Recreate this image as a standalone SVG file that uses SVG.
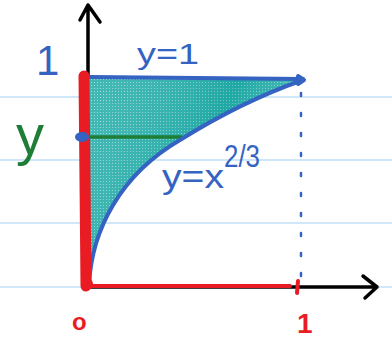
<svg xmlns="http://www.w3.org/2000/svg" width="392" height="340" viewBox="0 0 392 340">
<defs>
<style>
.rule{stroke:#cfe7f8;stroke-width:2}
.ax{stroke:#000;stroke-width:3.5;fill:none;stroke-linecap:round;stroke-linejoin:round}
.blue{stroke:#3563c2;fill:none;stroke-linecap:round;stroke-linejoin:round}
.red{stroke:#e91c24;fill:none;stroke-linecap:round;stroke-linejoin:round}
.lbl{font-family:"Liberation Sans",Arial,sans-serif}
.tb{fill:#3563c2}
.tr{fill:#e91c24;font-weight:bold}
.tg{fill:#1e7d36}
</style>
<pattern id="dots" width="3" height="3" patternUnits="userSpaceOnUse">
<rect width="3" height="3" fill="#27aeaa"/>
<rect x="1" y="1" width="1" height="1" fill="#ffffff" opacity="0.5"/>
</pattern>
<linearGradient id="shade" x1="0" y1="0" x2="1" y2="0.4">
<stop offset="0" stop-color="#ffffff" stop-opacity="0.12"/>
<stop offset="0.6" stop-color="#0e9a96" stop-opacity="0.3"/>
<stop offset="1" stop-color="#ffffff" stop-opacity="0.2"/>
</linearGradient>
</defs>
<g id="paper">
<line class="rule" x1="0" y1="97" x2="392" y2="97"/>
<line class="rule" x1="0" y1="160" x2="392" y2="160"/>
<line class="rule" x1="0" y1="223" x2="392" y2="223"/>
<line class="rule" x1="0" y1="287" x2="392" y2="287"/>
</g>
<g id="region">
<path d="M89,77 L303,79 C260,95 220,115 180,140 C120,175 92,230 89,287 Z" fill="url(#dots)"/>
<path d="M89,77 L303,79 C260,95 220,115 180,140 C120,175 92,230 89,287 Z" fill="url(#shade)"/>
</g>
<g id="connectors">
<path class="ax" d="M88,75 L88,5 M80,20 L88,5 L100,22"/>
<path class="ax" d="M88,287 L377,287 M363,276 L377,287 L365,298"/>
<line x1="88" y1="137" x2="182" y2="137" stroke="#1e7d36" stroke-width="3.5"/>
<path class="blue" stroke-width="4" d="M90,77 L303,79"/>
<path class="blue" stroke-width="4" d="M89,284 C92,230 120,175 180,140 C220,115 260,95 303,80"/>
<path class="blue" stroke-width="4" d="M298,76 L304,80 L298,84"/>
<line class="blue" stroke-width="2.5" x1="301" y1="93" x2="301" y2="280" stroke-dasharray="3 17"/>
<path class="red" stroke-width="11" d="M84,76 L86,286"/>
<path class="red" stroke-width="4" d="M88,286 L290,286"/>
<line class="red" stroke-width="4" x1="298" y1="281" x2="297" y2="293"/>
<circle cx="87" cy="284" r="6" fill="#e91c24"/>
<ellipse cx="82" cy="137" rx="7" ry="5" fill="#3563c2"/>
</g>
<g id="labels" class="lbl">
<text class="tb" x="36" y="75" font-size="42">1</text>
<text class="tb" x="137" y="64" font-size="30" textLength="62" lengthAdjust="spacingAndGlyphs">y=1</text>
<text class="tb" x="162" y="188" font-size="34" textLength="62" lengthAdjust="spacingAndGlyphs">y=x</text>
<text class="tb" x="224" y="167" font-size="32" textLength="36" lengthAdjust="spacingAndGlyphs">2/3</text>
<text class="tg" x="16" y="154" font-size="56">y</text>
<text class="tr" x="72" y="330" font-size="24">o</text>
<text class="tr" x="297" y="333" font-size="28">1</text>
</g>
</svg>
